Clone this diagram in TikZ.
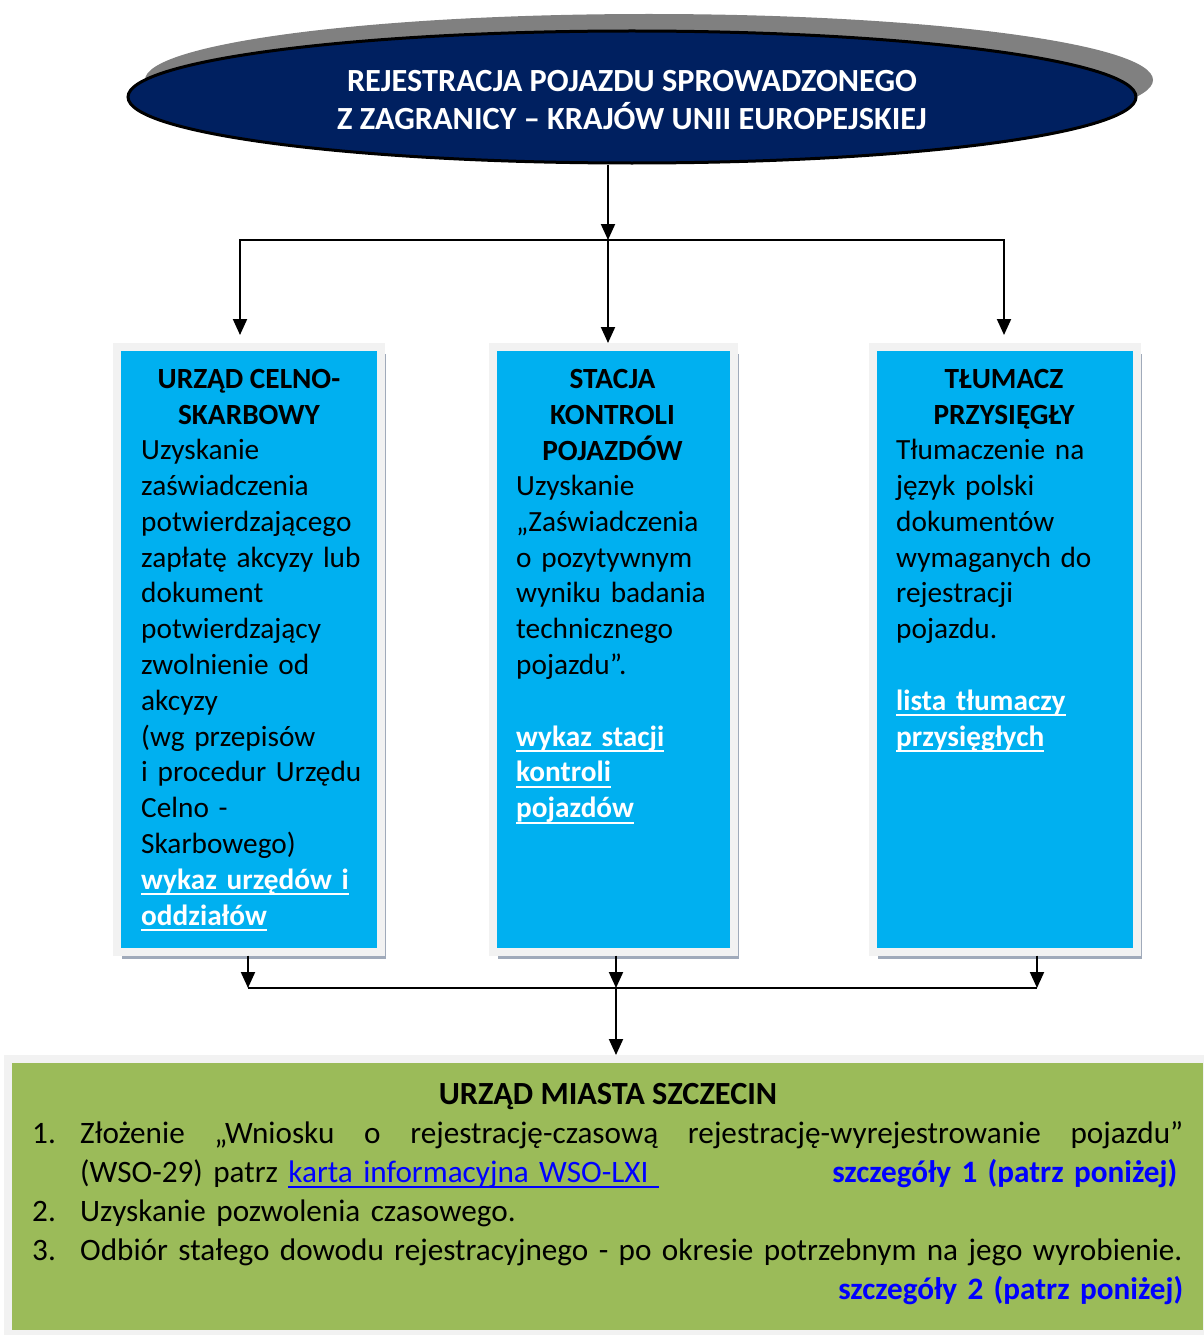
\documentclass[tikz,border=0pt]{standalone}
\usepackage{fontspec}
\setmainfont{Carlito}
\usetikzlibrary{shapes.geometric,shadows,arrows.meta}

\definecolor{navy}{HTML}{002060}
\definecolor{boxblue}{HTML}{00B0F0}
\definecolor{boxgreen}{HTML}{9BBB59}
\definecolor{framegray}{HTML}{F2F2F2}
\definecolor{ellshadow}{HTML}{808080}
\definecolor{boxshadow}{HTML}{A0AABA}
\definecolor{linkblue}{HTML}{0000FF}

\newsavebox\linkbox
\newcommand\ulk[1]{\leavevmode\sbox\linkbox{#1}\rlap{\rule[-6pt]{\wd\linkbox}{2pt}}\usebox\linkbox}
\newcommand\whitelink[1]{{\bfseries\color{white}\ulk{#1}}}

\tikzset{
	office/.style={rectangle, fill=boxblue, draw=framegray, line width=8pt, minimum height=604.5pt,
		drop shadow={shadow xshift=5pt, shadow yshift=-7pt, fill=boxshadow, opacity=1}},
	headtext/.style={inner sep=0pt, align=center, anchor=base, font=\bfseries\fontsize{29.3}{35.8}\selectfont},
	bodytext/.style={inner sep=0pt, align=left, text width=250pt, anchor=base west, font=\fontsize{29.3}{35.8}\selectfont},
	arr/.style={line width=2pt, -{Triangle[width=14pt,length=16pt]}},
}

\begin{document}
\begin{tikzpicture}[x=1pt, y=-1pt]
	\useasboundingbox (0,0) rectangle (1203,1335);

	% title ellipse
	\node[ellipse, fill=navy, draw=black, line width=3pt, minimum width=1008pt, minimum height=132pt,
		drop shadow={shadow xshift=17pt, shadow yshift=17pt, fill=ellshadow, opacity=1}] (title) at (632,97) {};
	\node[headtext, text=white, font=\bfseries\fontsize{32.3}{38}\selectfont] (titletext) at (632,129.5)
		{REJESTRACJA POJAZDU SPROWADZONEGO\\Z ZAGRANICY – KRAJÓW UNII EUROPEJSKIEJ};

	% three offices
	\node[office, minimum width=264pt] (celno) at (249,649.25) {};
	\node[office, minimum width=241pt] (stacja) at (613.5,649.25) {};
	\node[office, minimum width=264pt] (tlumacz) at (1005,649.25) {};

	\node[headtext] (celnohead) at (249,424) {URZĄD CELNO-\\SKARBOWY};
	\node[bodytext] (celnobody) at (141,459.6) {Uzyskanie\\zaświadczenia\\potwierdzającego\\zapłatę akcyzy lub\\dokument\\potwierdzający\\zwolnienie od\\akcyzy\\(wg przepisów\\i procedur Urzędu\\Celno -\\Skarbowego)\\\whitelink{wykaz urzędów i}\\\whitelink{oddziałów}};

	\node[headtext] (stacjahead) at (612.5,460) {STACJA\\KONTROLI\\POJAZDÓW};
	\node[bodytext] (stacjabody) at (516,495.4) {Uzyskanie\\„Zaświadczenia\\o pozytywnym\\wyniku badania\\technicznego\\pojazdu”.\\[35.8pt]\whitelink{wykaz stacji}\\\whitelink{kontroli}\\\whitelink{pojazdów}};

	\node[headtext] (tlumaczhead) at (1004,424) {TŁUMACZ\\PRZYSIĘGŁY};
	\node[bodytext] (tlumaczbody) at (896,459.6) {Tłumaczenie na\\język polski\\dokumentów\\wymaganych do\\rejestracji\\pojazdu.\\[35.8pt]\whitelink{lista tłumaczy}\\\whitelink{przysięgłych}};

	% city office
	\node[rectangle, fill=boxgreen, draw=framegray, line width=8pt, minimum width=1199pt, minimum height=275pt] (urzad) at (607.5,1196.5) {};
	\node[headtext, font=\bfseries\fontsize{32.3}{39}\selectfont] (urzadhead) at (608,1104) {URZĄD MIASTA SZCZECIN};
	\node[bodytext, text width=1151pt, font=\fontsize{31.2}{39}\selectfont] (urzadlist) at (32,1143)
		{\makebox[48pt][l]{1.}Złożenie\hfill „Wniosku\hfill o\hfill rejestrację-czasową\hfill rejestrację-wyrejestrowanie\hfill pojazdu”\\
		\hspace*{48pt}(WSO-29) patrz {\color{linkblue}\ulk{karta informacyjna WSO-LXI\ }}\hfill{\bfseries\color{linkblue}szczegóły 1 (patrz poniżej)}\kern6pt\\
		\makebox[48pt][l]{2.}Uzyskanie pozwolenia czasowego.\\
		\makebox[48pt][l]{3.}Odbiór stałego dowodu rejestracyjnego - po okresie potrzebnym na jego wyrobienie.\\
		\mbox{}\hfill{\bfseries\color{linkblue}szczegóły 2 (patrz poniżej)}};

	% connectors
	\coordinate (split) at (608,240);
	\draw[arr] (split |- title.south) -- (split);
	\draw[arr] (split) -- (split |- stacja.north);
	\draw[arr] (split) -| ([xshift=-9pt,yshift=8pt]celno.north);
	\draw[arr] (split) -| ([xshift=-1pt,yshift=8pt]tlumacz.north);

	\coordinate (merge) at (616,988);
	\coordinate (m1) at (248,988);
	\coordinate (m3) at (1037,988);
	\draw[arr] (celno.south -| m1) -- (m1);
	\draw[arr] (stacja.south -| merge) -- (merge);
	\draw[arr] (tlumacz.south -| m3) -- (m3);
	\draw[line width=2pt] (m1) -- (m3);
	\draw[arr] (merge) -- (urzad.north -| merge);
\end{tikzpicture}
\end{document}
